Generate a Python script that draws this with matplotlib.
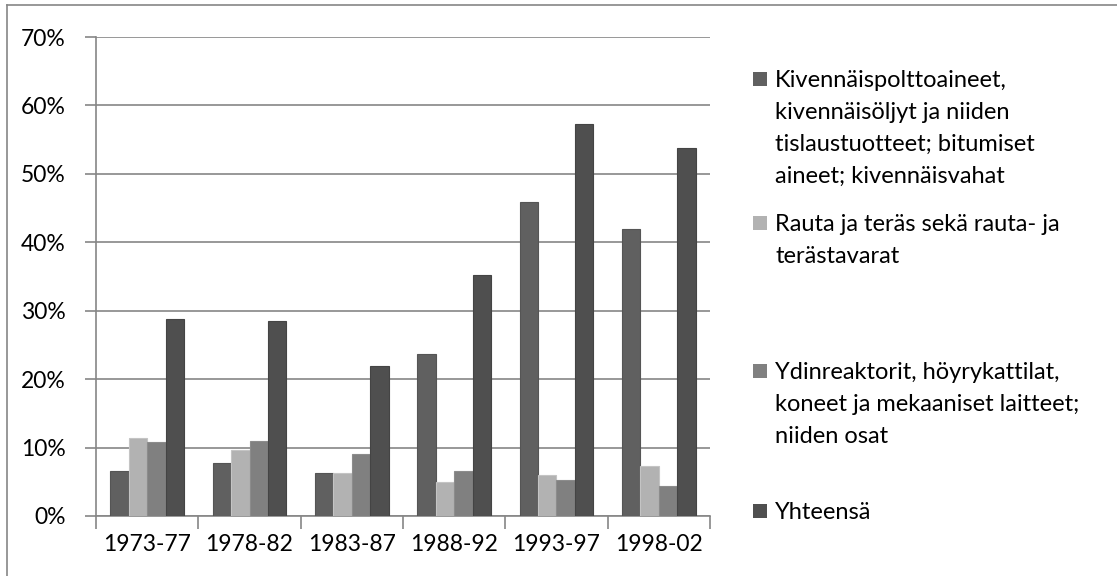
import matplotlib.pyplot as plt
import numpy as np
from matplotlib.patches import Rectangle
from matplotlib.lines import Line2D
from matplotlib.ticker import PercentFormatter

plt.rcParams['font.family'] = ['Lato', 'DejaVu Sans']

# data (percent)
periods = ['1973-77', '1978-82', '1983-87', '1988-92', '1993-97', '1998-02']
fuels = [6.6, 7.7, 6.3, 23.7, 45.9, 42.0]
iron_steel = [11.4, 9.6, 6.3, 5.0, 6.0, 7.3]
machinery = [10.8, 11.0, 9.1, 6.6, 5.3, 4.4]
total = [28.8, 28.5, 21.9, 35.2, 57.3, 53.8]

labels = ['Kivennäispolttoaineet,\nkivennäisöljyt ja niiden\ntislaustuotteet; bitumiset\naineet; kivennäisvahat',
          'Rauta ja teräs sekä rauta- ja\nterästavarat',
          'Ydinreaktorit, höyrykattilat,\nkoneet ja mekaaniset laitteet;\nniiden osat',
          'Yhteensä']
colors = ['#606060', '#b2b2b2', '#808080', '#4f4f4f']
edges = ['#555555', '#c4c4c4', '#8c8c8c', '#444444']

W, H = 1117, 576
fig = plt.figure(figsize=(W / 100, H / 100), dpi=100)
ax = fig.add_axes([96 / W, 60 / H, 614 / W, 479 / H])

x = np.arange(len(periods)) + 0.5
w = 0.18
series = [fuels, iron_steel, machinery, total]
for i, vals in enumerate(series):
    ax.bar(x + (i - 1.5) * w, vals, width=w, color=colors[i], edgecolor=edges[i],
           linewidth=0.8, zorder=3)

ax.set_xlim(0, len(periods))
ax.set_ylim(0, 70)
ax.set_yticks(np.arange(0, 71, 10))
ax.yaxis.set_major_formatter(PercentFormatter(decimals=0))
ax.set_xticks(np.arange(0, len(periods) + 1))
ax.set_xticklabels([])
ax.set_xticks(x, minor=True)
ax.set_xticklabels(periods, minor=True)
ax.tick_params(axis='x', which='minor', length=0, labelsize=16.5, pad=13)
ax.tick_params(axis='x', which='major', length=9, color='#868686', width=1.2)
ax.tick_params(axis='y', length=8, color='#868686', width=1.2, labelsize=16.5, pad=14)
ax.grid(axis='y', color='#868686', linewidth=1.2, zorder=0)
for s in ['top', 'right']:
    ax.spines[s].set_visible(False)
for s in ['left', 'bottom']:
    ax.spines[s].set_color('#868686')
    ax.spines[s].set_linewidth(1.2)

# legend, one entry at a time (baselines in pixels from top)
first_baselines = [87, 231, 379, 519]
for lab, c, yb in zip(labels, colors, first_baselines):
    fig.patches.append(Rectangle((753 / W, 1 - (yb - 1) / H), 14 / W, 14 / H,
                                 transform=fig.transFigure, facecolor=c, edgecolor='none'))
    for k, line in enumerate(lab.split('\n')):
        fig.text(775 / W, 1 - (yb + 32 * k) / H, line, fontsize=17,
                 ha='left', va='baseline', color='black')

# outer frame (only top and left edges show in the original)
fig.lines.append(Line2D([7 / W, 1], [1 - 5 / H, 1 - 5 / H], transform=fig.transFigure,
                        color='#868686', linewidth=1.2))
fig.lines.append(Line2D([7 / W, 7 / W], [0, 1 - 5 / H], transform=fig.transFigure,
                        color='#868686', linewidth=1.2))
fig.savefig('out.png', dpi=100)
